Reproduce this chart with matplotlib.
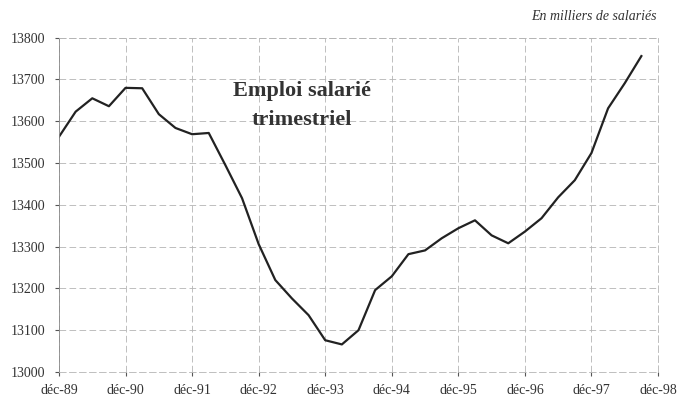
import matplotlib
matplotlib.use("Agg")
import matplotlib.pyplot as plt

# Quarterly salaried employment (thousands), Dec-89 .. Sep-98
values = [13563, 13623, 13655, 13636, 13680, 13679, 13617, 13584, 13569, 13572,
          13495, 13416, 13306, 13220, 13176, 13136, 13076, 13066, 13100, 13196,
          13229, 13282, 13291, 13320, 13344, 13363, 13327, 13308, 13336, 13368,
          13418, 13459, 13524, 13631, 13691, 13756]
xtick_labels = ["déc-89", "déc-90", "déc-91", "déc-92", "déc-93", "déc-94",
                "déc-95", "déc-96", "déc-97", "déc-98"]
yticks = [13000, 13100, 13200, 13300, 13400, 13500, 13600, 13700, 13800]
title_text = "Emploi salarié\ntrimestriel"
unit_text = "En milliers de salariés"

plt.rcParams['font.family'] = ['Liberation Serif', 'DejaVu Serif']

fig = plt.figure(figsize=(6.78, 4.0), dpi=100)
ax = fig.add_axes([59/678, 28/400, (658-59)/678, (372-37.7)/400])

x = list(range(len(values)))
ax.plot(x, values, color="#222222", linewidth=1.6, solid_joinstyle="round")

ax.set_xlim(0, 36)
ax.set_ylim(13000, 13800)
ax.set_xticks(range(0, 37, 4))
ax.set_xticklabels(xtick_labels, fontsize=10, color="#333333")
ax.set_yticks(yticks)
ax.set_yticklabels([str(v) for v in yticks], fontsize=10, color="#333333")
ax.tick_params(axis="y", length=3, width=0.8, color="#555555", pad=7)
ax.tick_params(axis="x", length=3, width=0.8, color="#555555", pad=6)

ax.grid(True, color="#b4b4b4", linestyle=(0, (8, 4)), linewidth=0.6)
for s in ax.spines.values():
    s.set_color("#b4b4b4")
    s.set_linewidth(0.6)
    s.set_linestyle((0, (8, 4)))
ax.spines['left'].set_linestyle('-')
ax.spines['left'].set_color("#888888")

ax.text(0.4057, 0.797, title_text, transform=ax.transAxes, ha="center", va="center",
        fontsize=16, fontweight="bold", color="#333333", linespacing=1.55)
fig.text(657/678, 1-17/400, unit_text, ha="right", va="center",
         fontsize=10, style="italic", color="#333333")

fig.savefig("out.png", dpi=100)
